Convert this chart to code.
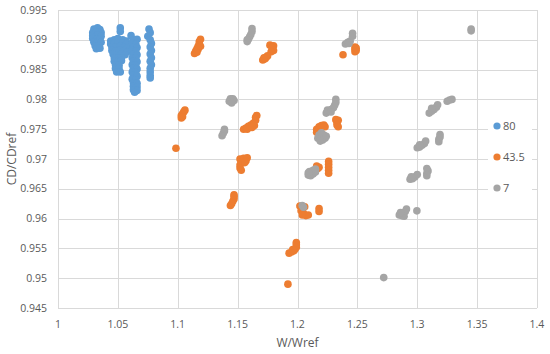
<!DOCTYPE html>
<html>
<head>
<meta charset="utf-8">
<script src="https://d3js.org/d3.v7.min.js"></script>
<style>
  html, body { margin: 0; padding: 0; background: #fff; }
  svg { display: block; font-family: 'Open Sans', sans-serif; }
</style>
</head>
<body>
<div class="d3"></div>
<script>
// series 80
let series80 = [
  [1.030,0.9918],[1.033,0.9920],[1.035,0.9917],[1.029,0.9912],[1.032,0.9913],[1.036,0.9912],
  [1.029,0.9907],[1.033,0.9908],[1.036,0.9906],[1.029,0.9902],[1.032,0.9901],[1.035,0.9900],
  [1.030,0.9896],[1.033,0.9895],[1.036,0.9896],[1.031,0.9890],[1.034,0.9890],[1.032,0.9885],[1.035,0.9886],
  [1.052,0.9920],[1.052,0.9914],[1.044,0.9898],[1.047,0.9900],[1.050,0.9902],[1.054,0.9900],[1.057,0.9898],
  [1.044,0.9893],[1.047,0.9894],[1.050,0.9895],[1.054,0.9894],[1.057,0.9892],
  [1.045,0.9888],[1.048,0.9888],[1.052,0.9889],[1.055,0.9887],[1.058,0.9886],
  [1.045,0.9882],[1.048,0.9881],[1.052,0.9883],[1.055,0.9881],[1.058,0.9880],
  [1.046,0.9876],[1.049,0.9875],[1.053,0.9876],[1.056,0.9875],
  [1.047,0.9870],[1.050,0.9869],[1.053,0.9870],[1.047,0.9864],[1.050,0.9863],[1.053,0.9865],
  [1.048,0.9858],[1.051,0.9857],[1.048,0.9852],[1.051,0.9851],[1.049,0.9846],[1.052,0.9846],
  [1.061,0.9907],[1.063,0.9900],[1.066,0.9901],[1.062,0.9894],[1.065,0.9893],[1.063,0.9888],[1.066,0.9887],
  [1.062,0.9882],[1.065,0.9881],[1.063,0.9876],[1.066,0.9875],[1.062,0.9870],[1.065,0.9869],
  [1.063,0.9864],[1.066,0.9863],[1.062,0.9858],[1.065,0.9857],[1.063,0.9852],[1.066,0.9851],
  [1.062,0.9846],[1.065,0.9845],[1.063,0.9840],[1.066,0.9839],[1.062,0.9834],[1.065,0.9833],
  [1.063,0.9828],[1.066,0.9827],[1.063,0.9822],[1.066,0.9821],[1.063,0.9816],[1.066,0.9815],[1.064,0.9812],
  [1.076,0.9918],[1.077,0.9912],[1.075,0.9906],[1.077,0.9900],[1.078,0.9894],[1.077,0.9888],
  [1.078,0.9882],[1.077,0.9876],[1.078,0.9870],[1.077,0.9864],[1.078,0.9858],[1.077,0.9852],
  [1.077,0.9846],[1.077,0.9840],[1.077,0.9836]
];

// series 43.5
let series43 = [
  [1.114,0.9877],[1.115,0.9881],[1.116,0.9885],[1.117,0.9889],[1.118,0.9893],[1.118,0.9897],
  [1.119,0.9901],[1.116,0.9879],[1.117,0.9884],[1.119,0.9889],
  [1.177,0.9891],[1.180,0.9890],[1.179,0.9886],[1.180,0.9882],[1.178,0.9880],
  [1.171,0.9866],[1.173,0.9868],[1.174,0.9871],[1.175,0.9873],[1.172,0.9870],
  [1.103,0.9769],[1.103,0.9773],[1.104,0.9776],[1.105,0.9779],[1.106,0.9782],[1.104,0.9771],
  [1.0985,0.9718],
  [1.155,0.9750],[1.157,0.9752],[1.159,0.9755],[1.161,0.9757],[1.163,0.9760],[1.165,0.9765],
  [1.165,0.9770],[1.166,0.9773],[1.164,0.9756],[1.158,0.9750],[1.162,0.9753],
  [1.152,0.9700],[1.155,0.9701],[1.158,0.9702],[1.157,0.9697],[1.153,0.9695],[1.152,0.9690],
  [1.152,0.9685],[1.153,0.9681],[1.156,0.9694],
  [1.144,0.9622],[1.145,0.9625],[1.146,0.9629],[1.147,0.9633],[1.147,0.9637],[1.147,0.9640],
  [1.193,0.9542],[1.195,0.9544],[1.197,0.9546],[1.198,0.9549],[1.199,0.9552],[1.199,0.9556],
  [1.199,0.9560],[1.196,0.9548],
  [1.192,0.9490],
  [1.238,0.9875],
  [1.248,0.9880],[1.248,0.9884],[1.248,0.9888],[1.249,0.9882],[1.249,0.9886],
  [1.232,0.9766],[1.234,0.9765],[1.233,0.9761],[1.233,0.9757],[1.234,0.9754],
  [1.216,0.9750],[1.218,0.9754],[1.220,0.9756],[1.222,0.9757],[1.223,0.9754],[1.216,0.9745],
  [1.216,0.9688],[1.218,0.9686],[1.217,0.9684],
  [1.226,0.9696],[1.226,0.9691],[1.226,0.9686],[1.226,0.9681],[1.226,0.9676],
  [1.202,0.9621],[1.204,0.9619],[1.206,0.9620],[1.203,0.9613],[1.205,0.9609],[1.207,0.9605],
  [1.209,0.9606],[1.204,0.9606],
  [1.218,0.9617],[1.218,0.9612]
];

// series 7
let series7 = [
  [1.158,0.9897],[1.159,0.9901],[1.160,0.9905],[1.161,0.9909],[1.162,0.9914],[1.162,0.9919],[1.158,0.9900],
  [1.143,0.9797],[1.145,0.9797],[1.147,0.9798],[1.144,0.9801],[1.146,0.9801],[1.145,0.9794],
  [1.137,0.9739],[1.138,0.9743],[1.139,0.9747],[1.139,0.9750],
  [1.240,0.9893],[1.242,0.9896],[1.244,0.9898],[1.246,0.9906],[1.246,0.9911],[1.243,0.9894],
  [1.224,0.9777],[1.226,0.9780],[1.228,0.9783],[1.230,0.9786],[1.231,0.9790],[1.232,0.9795],
  [1.232,0.9800],[1.225,0.9782],[1.228,0.9779],
  [1.217,0.9735],[1.219,0.9733],[1.221,0.9732],[1.223,0.9735],[1.218,0.9740],[1.222,0.9740],
  [1.220,0.9744],[1.224,0.9738],[1.219,0.9730],
  [1.209,0.9673],[1.211,0.9672],[1.213,0.9675],[1.215,0.9678],[1.210,0.9679],[1.213,0.9681],
  [1.215,0.9683],[1.209,0.9677],
  [1.204,0.9622],[1.205,0.9619],
  [1.272,0.9501],
  [1.285,0.9606],[1.287,0.9605],[1.288,0.9609],[1.290,0.9612],[1.291,0.9616],[1.289,0.9604],[1.286,0.9610],
  [1.2997,0.9613],
  [1.294,0.9666],[1.296,0.9667],[1.298,0.9670],[1.300,0.9674],[1.295,0.9670],
  [1.308,0.9672],[1.308,0.9676],[1.309,0.9680],[1.308,0.9684],
  [1.300,0.9719],[1.302,0.9720],[1.304,0.9723],[1.306,0.9726],[1.307,0.9730],[1.302,0.9724],
  [1.318,0.9729],[1.318,0.9733],[1.319,0.9737],[1.319,0.9741],
  [1.310,0.9777],[1.312,0.9780],[1.314,0.9783],[1.316,0.9787],[1.317,0.9791],[1.312,0.9785],
  [1.325,0.9797],[1.327,0.9799],[1.329,0.9800],
  [1.345,0.9915],[1.345,0.9918]
];

let seriesNames = ['80', '43.5', '7'];
let seriesColors = ['#5b9bd5', '#ed7d31', '#a5a5a5'];
let xTicks = [1, 1.05, 1.1, 1.15, 1.2, 1.25, 1.3, 1.35, 1.4];
let yTicks = [0.945, 0.95, 0.955, 0.96, 0.965, 0.97, 0.975, 0.98, 0.985, 0.99, 0.995];

(() => {
  let width = 550;
  let height = 354;
  let margin = { top: 10, right: 13, bottom: 46, left: 58 };

  let svg = d3
    .select('.d3')
    .append('svg')
    .attr('width', width)
    .attr('height', height);

  let x = d3
    .scaleLinear()
    .domain([1, 1.4])
    .range([margin.left, width - margin.right]);

  let y = d3
    .scaleLinear()
    .domain([0.945, 0.995])
    .range([height - margin.bottom, margin.top]);

  // grid
  let grid = svg.append('g').attr('stroke', '#d9d9d9').attr('stroke-width', 1);
  grid
    .selectAll('line.v')
    .data(xTicks)
    .enter()
    .append('line')
    .attr('x1', d => Math.round(x(d)) + 0.5)
    .attr('x2', d => Math.round(x(d)) + 0.5)
    .attr('y1', y(0.995))
    .attr('y2', y(0.945));
  grid
    .selectAll('line.h')
    .data(yTicks)
    .enter()
    .append('line')
    .attr('y1', d => Math.round(y(d)) + 0.5)
    .attr('y2', d => Math.round(y(d)) + 0.5)
    .attr('x1', x(1))
    .attr('x2', x(1.4));

  // tick labels
  svg
    .append('g')
    .selectAll('text')
    .data(yTicks)
    .enter()
    .append('text')
    .attr('x', margin.left - 11)
    .attr('y', d => y(d))
    .attr('dy', '0.35em')
    .attr('text-anchor', 'end')
    .attr('font-size', 10.5)
    .attr('fill', '#595959')
    .text(d => d3.format('')(d));

  svg
    .append('g')
    .selectAll('text')
    .data(xTicks)
    .enter()
    .append('text')
    .attr('x', d => x(d))
    .attr('y', height - margin.bottom + 20)
    .attr('text-anchor', 'middle')
    .attr('font-size', 10.5)
    .attr('fill', '#595959')
    .text(d => d3.format('')(d));

  // axis titles
  svg
    .append('text')
    .attr('x', (x(1) + x(1.4)) / 2)
    .attr('y', 347)
    .attr('text-anchor', 'middle')
    .attr('font-size', 12)
    .attr('fill', '#595959')
    .text('W/Wref');

  svg
    .append('text')
    .attr('transform', 'translate(16,' + ((y(0.945) + y(0.995)) / 2) + ') rotate(-90)')
    .attr('text-anchor', 'middle')
    .attr('font-size', 12)
    .attr('fill', '#595959')
    .text('CD/CDref');

  // points
  let allSeries = [series80, series43, series7];
  allSeries.forEach((data, i) => {
    svg
      .append('g')
      .selectAll('circle')
      .data(data)
      .enter()
      .append('circle')
      .attr('cx', d => x(d[0]))
      .attr('cy', d => y(d[1]))
      .attr('r', 3.8)
      .attr('fill', seriesColors[i]);
  });

  // legend
  let legend = svg.append('g');
  legend
    .append('rect')
    .attr('x', 488)
    .attr('y', 112)
    .attr('width', 44)
    .attr('height', 90)
    .attr('fill', '#fff');

  let items = legend
    .selectAll('g')
    .data(seriesNames)
    .enter()
    .append('g')
    .attr('transform', (d, i) => 'translate(497,' + (126 + i * 31) + ')');

  items
    .append('circle')
    .attr('r', 3.6)
    .attr('fill', (d, i) => seriesColors[i]);

  items
    .append('text')
    .attr('x', 6)
    .attr('dy', '0.35em')
    .attr('font-size', 11)
    .attr('fill', '#595959')
    .text(d => d);
})();
</script>
</body>
</html>
